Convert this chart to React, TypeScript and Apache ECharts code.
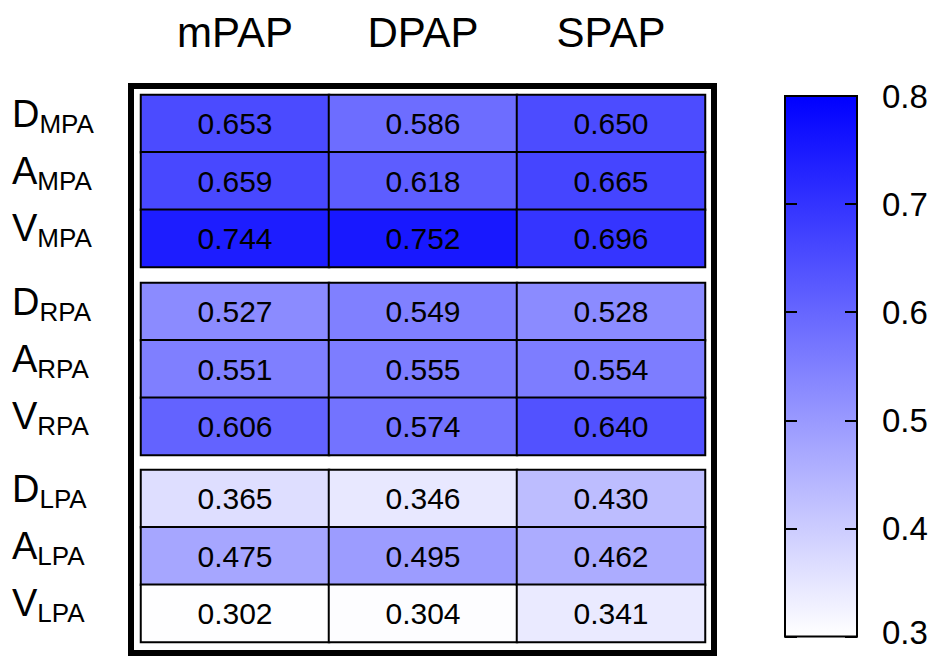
import React, { useEffect, useRef } from "react";
import * as echarts from "echarts";

const columns = ["mPAP", "DPAP", "SPAP"];
const rowLetters = ["D", "A", "V"];
const groups = ["MPA", "RPA", "LPA"];
// values[group][column][row]
const mpaValues = [
  [0.653, 0.659, 0.744],
  [0.586, 0.618, 0.752],
  [0.65, 0.665, 0.696],
];
const rpaValues = [
  [0.527, 0.551, 0.606],
  [0.549, 0.555, 0.574],
  [0.528, 0.554, 0.64],
];
const lpaValues = [
  [0.365, 0.475, 0.302],
  [0.346, 0.495, 0.304],
  [0.43, 0.462, 0.341],
];
const groupValues = [mpaValues, rpaValues, lpaValues];
const colorMin = 0.3;
const colorMax = 0.8;
const colorTicks = [0.3, 0.4, 0.5, 0.6, 0.7, 0.8];

const FONT = "'Liberation Sans', Arial, Helvetica, sans-serif";

export default function App() {
  const ref = useRef<HTMLDivElement>(null);
  useEffect(() => {
    if (!ref.current) return;
    const chart = echarts.init(ref.current, null, { renderer: "svg" });
    const gridTops = [95, 283, 470];
    const grids: any[] = gridTops.map((t) => ({
      left: 141,
      top: t,
      width: 564,
      height: 172,
      containLabel: false,
    }));
    grids.push({
      left: 785,
      top: 96,
      width: 72,
      height: 546,
      show: true,
      borderColor: "#000",
      borderWidth: 2,
      backgroundColor: new echarts.graphic.LinearGradient(0, 0, 0, 1, [
        { offset: 0, color: "#0000ff" },
        { offset: 1, color: "#ffffff" },
      ]),
    });

    const xAxes: any[] = groups.map((g, i) => ({
      type: "category",
      gridIndex: i,
      data: columns,
      position: "top",
      axisLine: { show: false },
      axisTick: { show: false },
      splitLine: { show: false },
      axisLabel: {
        show: i === 0,
        fontSize: 42,
        color: "#000",
        fontFamily: FONT,
        margin: 42,
      },
    }));
    xAxes.push({
      type: "value",
      gridIndex: 3,
      show: false,
    });

    const yAxes: any[] = groups.map((g, i) => ({
      type: "category",
      gridIndex: i,
      inverse: true,
      data: rowLetters.map((l) => l + g),
      axisLine: { show: false },
      axisTick: { show: false },
      splitLine: { show: false },
      axisLabel: {
        show: true,
        align: "left",
        margin: 129,
        color: "#000",
        fontFamily: FONT,
        padding: [0, 0, 14, 0],
        formatter: (_v: string, idx: number) => `{a|${rowLetters[idx]}}{b|${g}}`,
        rich: {
          a: { fontSize: 38, lineHeight: 40, fontFamily: FONT, color: "#000", padding: [0, 0, 6, 0] },
          b: { fontSize: 26, lineHeight: 26, fontFamily: FONT, color: "#000", verticalAlign: "bottom" },
        },
      },
    }));
    const cbAxisCommon = {
      type: "value",
      gridIndex: 3,
      min: colorMin,
      max: colorMax,
      interval: 0.1,
      splitLine: { show: false },
      axisLine: { show: true, lineStyle: { color: "#000", width: 2 } },
      axisTick: { show: true, inside: true, length: 12, lineStyle: { color: "#000", width: 2 } },
    };
    yAxes.push({
      ...cbAxisCommon,
      position: "left",
      axisLabel: { show: false },
    });
    yAxes.push({
      ...cbAxisCommon,
      position: "right",
      axisLabel: {
        show: true,
        color: "#000",
        fontFamily: FONT,
        margin: 25,
        formatter: (v: number) => {
          const t = colorTicks.find((c) => Math.abs(c - v) < 1e-6);
          if (t === undefined) return "";
          return t === colorMin ? `{low|${t.toFixed(1)}}` : `{n|${t.toFixed(1)}}`;
        },
        rich: {
          n: { fontSize: 33, lineHeight: 28, fontFamily: FONT, color: "#000" },
          low: { fontSize: 33, lineHeight: 28, fontFamily: FONT, color: "#000", padding: [0, 0, 8, 0] },
        },
      },
    });

    const series: any[] = groups.map((g, gi) => {
      const data: any[] = [];
      groupValues[gi].forEach((col, ci) => {
        col.forEach((v, ri) => {
          data.push([ci, ri, v]);
        });
      });
      return {
        type: "heatmap",
        xAxisIndex: gi,
        yAxisIndex: gi,
        data,
        itemStyle: { borderColor: "#000", borderWidth: 2 },
        label: {
          show: true,
          fontSize: 30,
          color: "#000",
          fontFamily: FONT,
          formatter: (p: any) => p.value[2].toFixed(3),
        },
        emphasis: { disabled: true },
      };
    });

    chart.setOption({
      animation: false,
      backgroundColor: "#fff",
      grid: grids,
      xAxis: xAxes,
      yAxis: yAxes,
      visualMap: {
        type: "continuous",
        show: false,
        min: colorMin,
        max: colorMax,
        seriesIndex: [0, 1, 2],
        dimension: 2,
        inRange: { color: ["#ffffff", "#0000ff"] },
      },
      graphic: [
        {
          type: "rect",
          shape: { x: 131, y: 86, width: 583, height: 567 },
          style: { fill: "none", stroke: "#000", lineWidth: 6 },
          z: 10,
        },
      ],
      series,
    });
    return () => chart.dispose();
  }, []);
  return (
    <div
      ref={ref}
      style={{ position: "fixed", left: 0, top: 0, width: 935, height: 657 }}
    />
  );
}
